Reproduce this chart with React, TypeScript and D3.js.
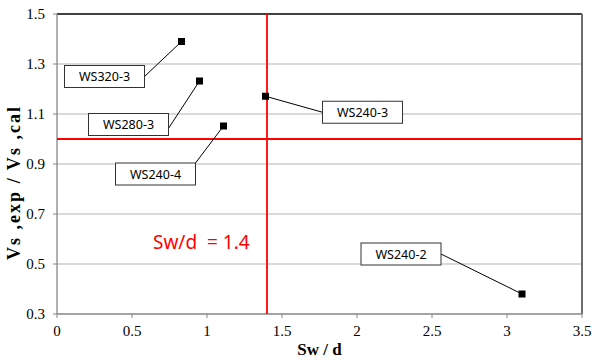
import React from "react";
import * as d3 from "d3";

const names = ["WS320-3", "WS280-3", "WS240-4", "WS240-3", "WS240-2"];
const swd = [0.83, 0.95, 1.11, 1.39, 3.1];
const ratio = [1.39, 1.232, 1.052, 1.171, 0.38];
const xTicks = [0, 0.5, 1, 1.5, 2, 2.5, 3, 3.5];
const yTicks = [0.3, 0.5, 0.7, 0.9, 1.1, 1.3, 1.5];
const refX = 1.4;
const refY = 1.0;

// label layout: box centre offset from point (px) and leader anchor on box (fraction of half-size)
const labelLayout = [
  { dx: -77, dy: 35, ax: 1, ay: 0 },
  { dx: -71, dy: 43.5, ax: 1, ay: 0.35 },
  { dx: -68, dy: 48, ax: 1, ay: -1 },
  { dx: 97, dy: 16, ax: -1, ay: 0 },
  { dx: -121, dy: -40, ax: 1, ay: 0 },
];

const W = 592, H = 363;
const m = { left: 57, right: 10, top: 14, bottom: 49 };

export default function App() {
  const x = d3.scaleLinear().domain([0, 3.5]).range([m.left, W - m.right]);
  const y = d3.scaleLinear().domain([0.3, 1.5]).range([H - m.bottom, m.top]);
  const x0 = x(0), x1 = x(3.5), y0 = y(0.3), y1 = y(1.5);
  const bw = 80, bh = 22;
  return (
    <svg width={W} height={H} style={{ position: "absolute", left: 0, top: 0, background: "#fff" }}>
      <rect x={0} y={0} width={W} height={H} fill="#fff" />
      {yTicks.filter((t) => t > 0.3 && t < 1.5).map((t) => (
        <line key={"g" + t} x1={x0} x2={x1} y1={y(t)} y2={y(t)} stroke="#b3b3b3" strokeWidth={1} />
      ))}
      {/* borders */}
      <line x1={x0} x2={x1} y1={y1} y2={y1} stroke="#000" strokeWidth={1.3} />
      <line x1={x1} x2={x1} y1={y1} y2={y0} stroke="#6e6e6e" strokeWidth={2} />
      <line x1={x0} x2={x0} y1={y1} y2={y0} stroke="#868686" strokeWidth={1.3} />
      <line x1={x0} x2={x1} y1={y0} y2={y0} stroke="#868686" strokeWidth={1.3} />
      {yTicks.map((t) => (
        <g key={"y" + t}>
          <line x1={x0 - 4} x2={x0} y1={y(t)} y2={y(t)} stroke="#868686" />
          <text x={x0 - 12} y={y(t) + 5} textAnchor="end" fontFamily="Liberation Serif, serif" fontSize={15} fill="#000">
            {t.toFixed(1)}
          </text>
        </g>
      ))}
      {xTicks.map((t) => (
        <g key={"x" + t}>
          <line x1={x(t)} x2={x(t)} y1={y0} y2={y0 + 4} stroke="#868686" />
          <text x={x(t)} y={336} textAnchor="middle" fontFamily="Liberation Serif, serif" fontSize={15} fill="#000">
            {String(t)}
          </text>
        </g>
      ))}
      {/* reference lines */}
      <line x1={x(refX)} x2={x(refX)} y1={y1} y2={y0} stroke="#ff0000" strokeWidth={1.8} />
      <line x1={x0} x2={x1} y1={y(refY)} y2={y(refY)} stroke="#ff0000" strokeWidth={1.8} />
      <text x={153} y={249} fontFamily="Noto Sans, sans-serif" fontSize={19} fill="#ff0000" style={{ whiteSpace: "pre" }}>
        {"Sw/d  = 1.4"}
      </text>
      {/* leaders and labels */}
      {names.map((n, i) => {
        const px = x(swd[i]), py = y(ratio[i]);
        const L = labelLayout[i];
        const cx = px + L.dx, cy = py + L.dy;
        const axp = cx + L.ax * bw / 2, ayp = cy + L.ay * bh / 2;
        return (
          <g key={n}>
            <line x1={axp} y1={ayp} x2={px} y2={py} stroke="#000" strokeWidth={1} />
            <rect x={cx - bw / 2} y={cy - bh / 2} width={bw} height={bh} fill="#fff" stroke="#333" strokeWidth={1} />
            <text x={cx} y={cy + 4.5} textAnchor="middle" fontFamily="Noto Sans, sans-serif" fontSize={12.5} fill="#000">
              {n}
            </text>
            <rect x={px - 3.5} y={py - 3.5} width={7} height={7} fill="#000" />
          </g>
        );
      })}
      <text x={(x0 + x1) / 2} y={355} textAnchor="middle" fontFamily="Liberation Serif, serif" fontWeight="bold" fontSize={17} fill="#000">
        Sw / d
      </text>
      <text transform="translate(20,183.5) rotate(-90)" textAnchor="middle" fontFamily="Liberation Serif, serif" fontWeight="bold" fontSize={18} fill="#000" textLength={153} lengthAdjust="spacing">
        Vs ,exp / Vs ,cal
      </text>
    </svg>
  );
}
